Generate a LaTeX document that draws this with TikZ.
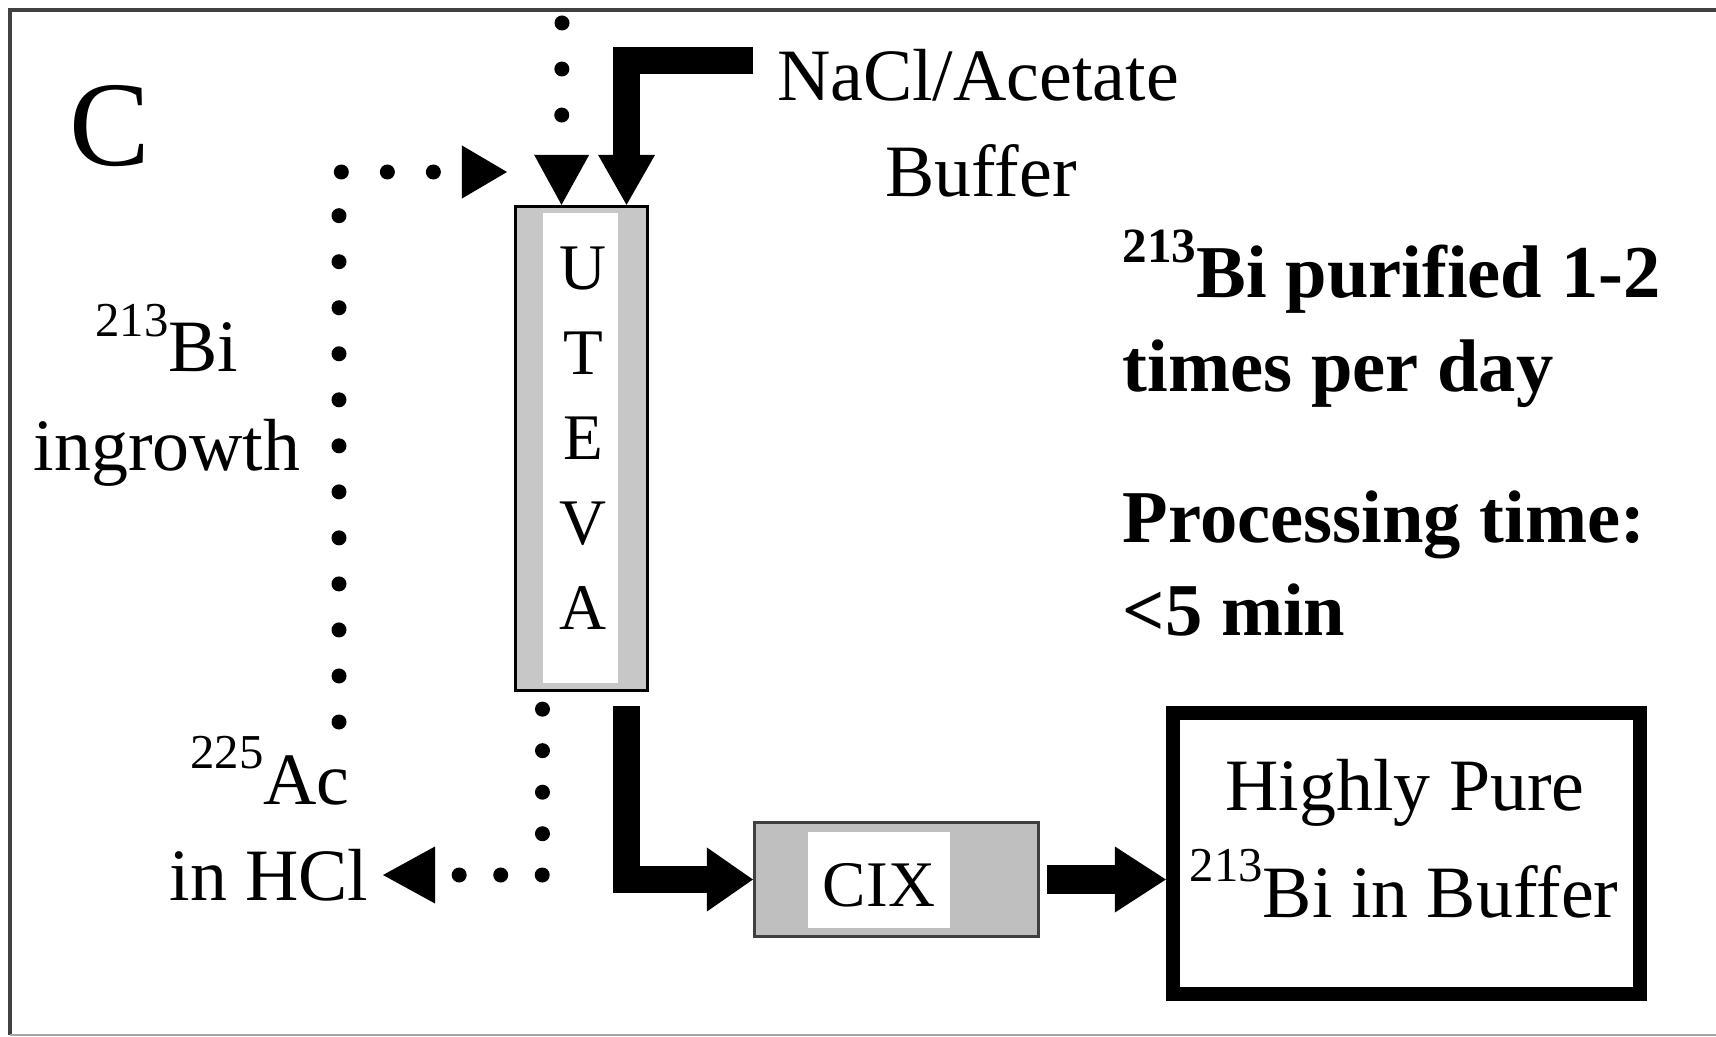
\documentclass[tikz,border=0pt]{standalone}
\usepackage{fontspec}
\setmainfont{Liberation Serif}
\usetikzlibrary{arrows.meta}
\newcommand\nuc[1]{\raisebox{1.05ex}{\scalebox{0.66}{#1}}}
\begin{document}
\begin{tikzpicture}[x=0.01cm,y=-0.01cm,
  txt/.style={inner sep=0pt, font=\fontsize{21pt}{25pt}\selectfont},
  btxt/.style={inner sep=0pt, font=\fontsize{21.2pt}{25pt}\selectfont\bfseries},
  dotline/.style={line width=0.15cm, line cap=round, dash pattern=on 0pt off 0.46cm},
  thickline/.style={line width=0.27cm, line join=miter},
  ]
\useasboundingbox (0,0) rectangle (1716,1037);
\fill[white] (0,0) rectangle (1716,1037);
% frame
\draw[black!75, line width=0.04cm] (10,1035) -- (10,10) -- (1716,10);
\draw[black!35, line width=0.02cm] (10,1035) -- (1716,1035);

% UTEVA column
\node[draw=black, line width=0.03cm, fill=black!22, minimum width=1.32cm, minimum height=4.84cm, inner sep=0pt] (uteva) at (581.5,448.5) {};
\fill[white] (543,213) rectangle (618,683);
\node[txt, font=\fontsize{18.5pt}{24.2pt}\selectfont, align=center] (utevatxt) at (583,438) {U\\T\\E\\V\\A};

% CIX column
\node[draw=black!75, line width=0.03cm, fill=black!25, minimum width=2.84cm, minimum height=1.14cm, inner sep=0pt] (cix) at (896.5,879.5) {};
\fill[white] (808,832) rectangle (950,928);
\node[txt, font=\fontsize{18.5pt}{20pt}\selectfont, anchor=base] (cixt) at (879,906) {CIX};

% final product box
\node[draw, line width=0.14cm, minimum width=4.67cm, minimum height=2.81cm, inner sep=0pt] (final) at (1406.5,853.5) {};
\node[txt, anchor=base] (hp1) at (1405,810) {Highly Pure};
\node[txt, anchor=base] (hp2) at (1404,917) {\nuc{213}Bi in Buffer};

% labels
\node[txt, font=\fontsize{34.4pt}{36pt}\selectfont] (C) at (110,126) {C};
\node[txt, anchor=base] (bi1) at (167,372) {\nuc{213}Bi};
\node[txt, anchor=base] (bi2) at (167,471) {ingrowth};
\node[txt, anchor=base] (ac1) at (270,804) {\nuc{225}Ac};
\node[txt, anchor=base] (ac2) at (269,900) {in HCl};
\node[txt, anchor=base] (na1) at (978,101) {NaCl/Acetate};
\node[txt, anchor=base] (na2) at (981,197) {Buffer};
\node[btxt, anchor=base west] (p1) at (1122,298) {\nuc{213}Bi purified 1-2};
\node[btxt, anchor=base west] (p2) at (1122,392) {times per day};
\node[btxt, anchor=base west] (p3) at (1122,542) {Processing time:};
\node[btxt, anchor=base west] (p4) at (1122,635) {<5 min};

% connectors
\coordinate (ing0) at (339,722);
\coordinate (ing1) at (507,172);
\draw[dotline, -{Triangle[length=0.45cm,width=0.53cm,line width=0pt]}] (ing0) |- (ing1);

\coordinate (top0) at (562,23);
\draw[dotline, -{Triangle[length=0.5cm,width=0.55cm,line width=0pt]}] (top0) -- ([xshift=-0.2cm]uteva.north);

\coordinate (na0) at (753,61);
\draw[thickline, -{Triangle[length=0.5cm,width=0.57cm,line width=0pt]}] (na0) -| ([xshift=0.45cm]uteva.north);

\coordinate (acin) at (383,875);
\draw[dotline, dash pattern=on 0pt off 0.415cm, -{Triangle[length=0.52cm,width=0.57cm,line width=0pt]}] ([xshift=-0.39cm,yshift=-0.17cm]uteva.south) |- (acin);

\draw[thickline, -{Triangle[length=0.46cm,width=0.64cm,line width=0pt]}] ([xshift=0.45cm,yshift=-0.14cm]uteva.south) |- (cix.west);
\draw[thickline, line width=0.28cm, -{Triangle[length=0.51cm,width=0.66cm,line width=0pt]}] ([xshift=0.07cm]cix.east) -- (cix.east -| final.west);
\end{tikzpicture}
\end{document}
